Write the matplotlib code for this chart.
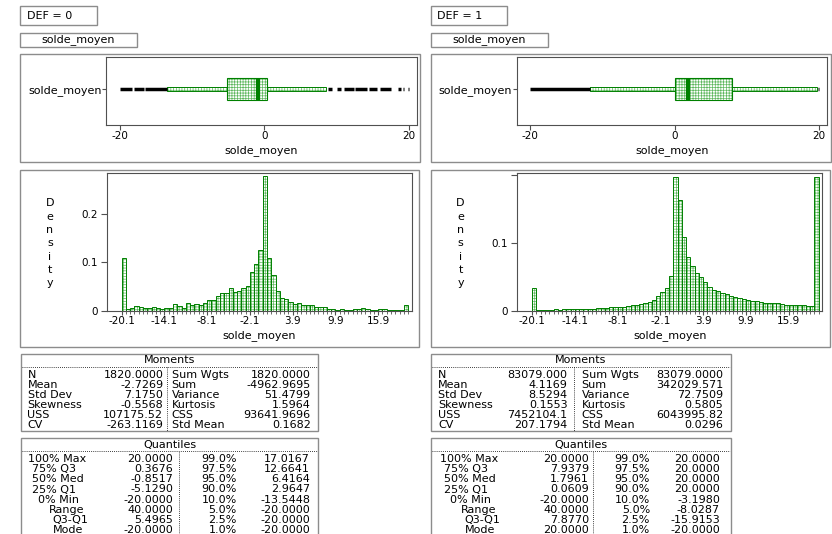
import matplotlib
matplotlib.use("Agg")
import matplotlib.pyplot as plt
from matplotlib.patches import Rectangle
from matplotlib.lines import Line2D
import numpy as np

plt.rcParams['font.family'] = ['DejaVu Sans']
plt.rcParams['font.size'] = 8
plt.rcParams['hatch.linewidth'] = 0.5
plt.rcParams['axes.unicode_minus'] = False

W, H = 832, 534

# ---------------- data ----------------
GROUPS = ["DEF = 0", "DEF = 1"]
VAR = "solde_moyen"

# histogram: density per bin of width 0.6 starting at -20.1
BIN_START = -20.1
BIN_WIDTH = 0.6
HIST_TICKS = [-20.1, -14.1, -8.1, -2.1, 3.9, 9.9, 15.9]
HIST_TICK_LABELS = ["-20.1", "-14.1", "-8.1", "-2.1", "3.9", "9.9", "15.9"]

dens_def0 = [0.110, 0.003, 0.005, 0.010, 0.008, 0.005, 0.006, 0.008, 0.006, 0.004,
             0.006, 0.006, 0.013, 0.009, 0.005, 0.017, 0.012, 0.013, 0.012, 0.016,
             0.023, 0.023, 0.030, 0.037, 0.037, 0.048, 0.039, 0.040, 0.048, 0.052,
             0.081, 0.097, 0.125, 0.279,
             0.110, 0.075, 0.041, 0.026, 0.024, 0.019, 0.013, 0.016, 0.011, 0.012,
             0.012, 0.008, 0.007, 0.007, 0.004, 0.004, 0.002, 0.004, 0.002, 0.002,
             0.004, 0.004, 0.005, 0.004, 0.002, 0.002, 0.003, 0.003, 0.001, 0.001,
             0.002, 0.002, 0.012]
dens_def1 = [0.033, 0.0015, 0.0015, 0.0015, 0.0015, 0.002, 0.0015, 0.002, 0.002, 0.002,
             0.002, 0.002, 0.0025, 0.003, 0.003, 0.0035, 0.004, 0.004, 0.005, 0.005,
             0.006, 0.006, 0.007, 0.008, 0.009, 0.010, 0.011, 0.013, 0.016,
             0.022, 0.028, 0.034, 0.052, 0.198,
             0.164, 0.109, 0.080, 0.066, 0.055, 0.050, 0.042, 0.035, 0.031, 0.029,
             0.026, 0.024, 0.022, 0.020, 0.019, 0.017, 0.016, 0.015, 0.014, 0.013,
             0.012, 0.012, 0.011, 0.011, 0.010, 0.009, 0.009, 0.008, 0.008, 0.008,
             0.007, 0.007, 0.198]
dens_ymax = [0.285, 0.203]
DENS_YTICKS = [0, 0.1, 0.2]
dens_yticklabels = [["0", "0.1", "0.2"], ["0", "0.1", ""]]

# box plot: lower whisker, Q1, median, Q3, upper whisker
box_def0 = [-13.4, -5.1290, -0.8517, 0.3676, 8.6]
box_def1 = [-11.75, 0.0609, 1.7961, 7.9379, 19.75]
BOX_TICKS = [-20, 0, 20]
BOX_TICK_LABELS = ["-20", "0", "20"]
# outliers drawn as runs along the centre line (start, end)
outliers_def0 = [(-20.0, -18.3), (-18.1, -16.7), (-16.5, -13.5),
                 (8.9, 9.4), (10.1, 10.6), (11.0, 12.4), (12.6, 14.2),
                 (14.5, 15.6), (16.1, 17.5), (18.6, 18.9), (19.2, 19.4), (19.9, 20.05)]
outliers_def1 = [(-20.0, -11.8), (19.8, 20.05)]

# moments tables
MOM_LABELS_A = ["N", "Mean", "Std Dev", "Skewness", "USS", "CV"]
MOM_LABELS_B = ["Sum Wgts", "Sum", "Variance", "Kurtosis", "CSS", "Std Mean"]
mom_def0_a = ["1820.0000", "-2.7269", "7.1750", "-0.5568", "107175.52", "-263.1169"]
mom_def0_b = ["1820.0000", "-4962.9695", "51.4799", "1.5964", "93641.9696", "0.1682"]
mom_def1_a = ["83079.000", "4.1169", "8.5294", "0.1553", "7452104.1", "207.1794"]
mom_def1_b = ["83079.0000", "342029.571", "72.7509", "0.5805", "6043995.82", "0.0296"]

# quantiles tables
QUANT_LABELS = ["100% Max", "75% Q3", "50% Med", "25% Q1", "0% Min", "Range", "Q3-Q1", "Mode"]
QUANT_PCTS = ["99.0%", "97.5%", "95.0%", "90.0%", "10.0%", "5.0%", "2.5%", "1.0%"]
quant_def0_a = ["20.0000", "0.3676", "-0.8517", "-5.1290", "-20.0000", "40.0000", "5.4965", "-20.0000"]
quant_def0_b = ["17.0167", "12.6641", "6.4164", "2.9647", "-13.5448", "-20.0000", "-20.0000", "-20.0000"]
quant_def1_a = ["20.0000", "7.9379", "1.7961", "0.0609", "-20.0000", "40.0000", "7.8770", "20.0000"]
quant_def1_b = ["20.0000", "20.0000", "20.0000", "20.0000", "-3.1980", "-8.0287", "-15.9153", "-20.0000"]

# ---------------- style / layout ----------------
DARK = '#008000'
LIGHT = '#5fb85f'
HATCH = '++++++'
BORDER = '#8c8c8c'
AXCOL = '#505050'
PANEL_DX = [0, 410.5]

MOM_COLS = [dict(x0=20.7, x1=318.3, lab=27.5, v1=163.3, div=166.5, lab2=171.7, v2=310.7),
            dict(x0=431, x1=731, lab=438, v1=567.7, div=574, lab2=581.7, v2=723.3)]
QUA_COLS = [dict(x0=20.7, x1=318.3, lab=28.3, v1=173.3, div=179, pct=236.7, v2=310),
            dict(x0=431, x1=731, lab=440, v1=589, div=592.5, pct=650, v2=720)]
QUA_INDENT = [0, 3.5, 3.5, 3.5, 10, 21, 24.5, 24.5]

fig = plt.figure(figsize=(W / 100, H / 100), dpi=100)
fig.patch.set_facecolor('white')


def fig_rect(x0, y0, x1, y1, **kw):
    fig.add_artist(Rectangle((x0 / W, 1 - y1 / H), (x1 - x0) / W, (y1 - y0) / H,
                             transform=fig.transFigure, fill=False, **kw))


def fig_line(x0, y0, x1, y1, **kw):
    fig.add_artist(Line2D([x0 / W, x1 / W], [1 - y0 / H, 1 - y1 / H],
                          transform=fig.transFigure, **kw))


def fig_text(x, y, s, **kw):
    fig.text(x / W, 1 - y / H, s, **kw)


def add_ax(x0, y0, x1, y1):
    ax = fig.add_axes([x0 / W, 1 - y1 / H, (x1 - x0) / W, (y1 - y0) / H])
    for sp in ax.spines.values():
        sp.set_color(AXCOL)
        sp.set_linewidth(0.8)
    ax.tick_params(axis='both', which='both', color=AXCOL, labelsize=7.5)
    return ax


def hatched(ax, x, y, w, h, lw=0.8):
    ax.add_patch(Rectangle((x, y), w, h, facecolor='white', edgecolor=LIGHT, hatch=HATCH, lw=0))
    ax.add_patch(Rectangle((x, y), w, h, fill=False, edgecolor=DARK, lw=lw))


dens_all = [dens_def0, dens_def1]
box_all = [box_def0, box_def1]
out_all = [outliers_def0, outliers_def1]
mom_all = [(mom_def0_a, mom_def0_b), (mom_def1_a, mom_def1_b)]
quant_all = [(quant_def0_a, quant_def0_b), (quant_def1_a, quant_def1_b)]

for i in range(2):
    dx = PANEL_DX[i]

    # header boxes
    fig_rect(20 + dx, 6, 97 + dx, 25, ec=BORDER, lw=1)
    fig_text(26.7 + dx, 16, GROUPS[i], ha='left', va='center')
    fig_rect(20 + dx, 33, 137 + dx, 46.5, ec=BORDER, lw=1)
    fig_text(78.5 + dx, 40, VAR, ha='center', va='center')

    # panel frames
    fig_rect(20 + dx, 54, 420 + dx, 161.5, ec=BORDER, lw=1)
    fig_rect(20 + dx, 170, 419 + dx, 347, ec=BORDER, lw=1)

    # ---- box plot ----
    lo, q1, med, q3, hi = box_all[i]
    yc = 0.522
    ax = add_ax(106.5 + dx, 56.5, 416.5 + dx, 124.5)
    ax.set_xlim(-21.85, 21.1)
    ax.set_ylim(0, 1)
    hatched(ax, lo, yc - 0.025, hi - lo, 0.05, lw=0.7)
    hatched(ax, q1, 0.36, q3 - q1, 0.32)
    ax.plot([med, med], [0.36, 0.68], color=DARK, lw=3, solid_capstyle='butt')
    for a, b in out_all[i]:
        ax.plot([a, b], [yc, yc], color='black', lw=2.5, solid_capstyle='butt')
    ax.set_xticks(BOX_TICKS, BOX_TICK_LABELS)
    ax.set_yticks([yc], [VAR])
    ax.tick_params(axis='x', length=3.5, pad=1.5)
    ax.tick_params(axis='y', length=3, pad=0.5, labelsize=8)
    ax.set_xlabel(VAR)
    ax.xaxis.set_label_coords(0.5, (124.5 - 150.7) / 68)
    ax.xaxis.label.set_va('center')

    # ---- histogram ----
    dens = np.array(dens_all[i])
    edges = BIN_START + BIN_WIDTH * np.arange(len(dens) + 1)
    ax = add_ax(106.7 + dx, 173.3, 411.7 + dx, 310.7)
    ax.bar(edges[:-1], dens, width=BIN_WIDTH, align='edge', facecolor='white',
           edgecolor=LIGHT, hatch=HATCH, linewidth=0)
    ax.bar(edges[:-1], dens, width=BIN_WIDTH, align='edge', fill=False,
           edgecolor=DARK, linewidth=0.7)
    ax.set_xlim(-22.2, 20.6)
    ax.set_ylim(0, dens_ymax[i])
    ax.set_xticks(HIST_TICKS, HIST_TICK_LABELS)
    ax.set_xticks(edges, minor=True)
    ax.set_yticks(DENS_YTICKS, dens_yticklabels[i])
    ax.tick_params(axis='x', which='major', length=3, pad=1)
    ax.tick_params(axis='x', which='minor', length=2)
    ax.tick_params(axis='y', length=4.5, pad=2)
    ax.set_xlabel(VAR)
    ax.xaxis.set_label_coords(0.5, (310.7 - 335.7) / 137.4)
    ax.xaxis.label.set_va('center')
    for k, ch in enumerate("Density"):
        fig_text(50 + dx, 203.3 + k * 13.3, ch, ha='center', va='center')

    # ---- moments table ----
    c = MOM_COLS[i]
    fig_rect(c['x0'], 354.3, c['x1'], 431, ec=BORDER, lw=1)
    fig_text((c['x0'] + c['x1']) / 2, 360.2, "Moments", ha='center', va='center')
    fig_line(c['x0'] + 1, 366.7, c['x1'] - 1, 366.7, color='black', lw=0.6, ls=(0, (1, 1.5)))
    fig_line(c['div'], 367, c['div'], 431, color='black', lw=0.6, ls=(0, (1, 1.5)))
    va_, vb_ = mom_all[i]
    for r in range(6):
        y = 375.3 + r * 10
        fig_text(c['lab'], y, MOM_LABELS_A[r], ha='left', va='center')
        fig_text(c['v1'], y, va_[r], ha='right', va='center')
        fig_text(c['lab2'], y, MOM_LABELS_B[r], ha='left', va='center')
        fig_text(c['v2'], y, vb_[r], ha='right', va='center')

    # ---- quantiles table ----
    c = QUA_COLS[i]
    fig_rect(c['x0'], 438.3, c['x1'], 560, ec=BORDER, lw=1)
    fig_text((c['x0'] + c['x1']) / 2, 444.8, "Quantiles", ha='center', va='center')
    fig_line(c['x0'] + 1, 451.3, c['x1'] - 1, 451.3, color='black', lw=0.6, ls=(0, (1, 1.5)))
    fig_line(c['div'], 452, c['div'], 540, color='black', lw=0.6, ls=(0, (1, 1.5)))
    qa, qb = quant_all[i]
    for r in range(8):
        y = 459.2 + r * 10.1
        fig_text(c['lab'] + QUA_INDENT[r], y, QUANT_LABELS[r], ha='left', va='center')
        fig_text(c['v1'], y, qa[r], ha='right', va='center')
        fig_text(c['pct'], y, QUANT_PCTS[r], ha='right', va='center')
        fig_text(c['v2'], y, qb[r], ha='right', va='center')

fig.savefig("out.png", dpi=100, facecolor='white')
